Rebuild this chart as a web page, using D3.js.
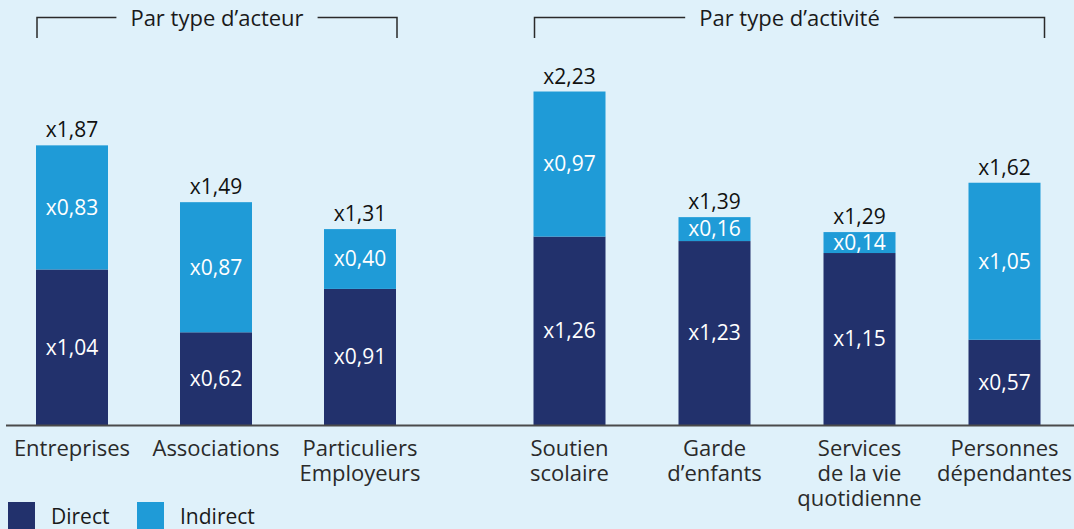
<!DOCTYPE html>
<html>
<head>
<meta charset="utf-8">
<script src="https://cdn.jsdelivr.net/npm/d3@7"></script>
<style>
  html, body { margin: 0; padding: 0; background: #dff1fa; }
  svg { display: block; }
</style>
</head>
<body>
<div id="chart"></div>
<script>
// ---- data ----
const groups = ['Par type d’acteur', 'Par type d’activité']
const categories = [
  ['Entreprises'], ['Associations'], ['Particuliers', 'Employeurs'],
  ['Soutien', 'scolaire'], ['Garde', 'd’enfants'], ['Services', 'de la vie', 'quotidienne'],
  ['Personnes', 'dépendantes']
]
const categoryGroup = [0, 0, 0, 1, 1, 1, 1]
const directValues = [1.04, 0.62, 0.91, 1.26, 1.23, 1.15, 0.57]
const indirectValues = [0.83, 0.87, 0.40, 0.97, 0.16, 0.14, 1.05]
const totalValues = [1.87, 1.49, 1.31, 2.23, 1.39, 1.29, 1.62]
const seriesNames = ['Direct', 'Indirect']

const width = 1074
const height = 529
const baseline = 425
const font = '"Open Sans","Noto Sans",sans-serif'
const colors = { Direct: '#22316c', Indirect: '#1f9bd7' }
const fmt = v => 'x' + v.toFixed(2).replace('.', ',')

const items = categories.map((c, i) => ({
  key: c.join(' '), lines: c, group: categoryGroup[i],
  direct: directValues[i], indirect: indirectValues[i], total: totalValues[i]
}))

const svg = d3.select('#chart').append('svg')
  .attr('width', width).attr('height', height)

svg.append('rect').attr('width', width).attr('height', height).attr('fill', '#dff1fa')

// one band scale per group
const groupRanges = [[0, 432], [497, 1077]]
const xScales = groups.map((g, gi) => d3.scaleBand()
  .domain(items.filter(d => d.group === gi).map(d => d.key))
  .range(groupRanges[gi])
  .paddingInner(0.5).paddingOuter(0.25))
const xOf = d => xScales[d.group](d.key)
const bw = 72

const y = d3.scaleLinear().domain([0, 2.2]).range([baseline, 96])

const textStyle = size => s => s.attr('font-family', font).attr('font-size', size + 'px').attr('text-anchor', 'middle')
const cxOf = d => xScales[d.group](d.key) + xScales[d.group].bandwidth() / 2

// ---- bars ----
const barG = svg.append('g')
barG.selectAll('.direct').data(items).join('rect')
  .attr('class', 'direct')
  .attr('x', d => cxOf(d) - bw / 2).attr('width', bw)
  .attr('y', d => y(d.direct)).attr('height', d => baseline - y(d.direct))
  .attr('fill', colors.Direct)
barG.selectAll('.indirect').data(items).join('rect')
  .attr('class', 'indirect')
  .attr('x', d => cxOf(d) - bw / 2).attr('width', bw)
  .attr('y', d => y(d.direct + d.indirect)).attr('height', d => y(d.direct) - y(d.direct + d.indirect))
  .attr('fill', colors.Indirect)

// ---- value labels ----
barG.selectAll('.lbl-direct').data(items).join('text')
  .call(textStyle(21)).attr('fill', '#ffffff')
  .attr('x', cxOf)
  .attr('y', d => (y(d.direct) + baseline) / 2).attr('dy', '0.35em')
  .text(d => fmt(d.direct))
barG.selectAll('.lbl-indirect').data(items).join('text')
  .call(textStyle(21)).attr('fill', '#ffffff')
  .attr('x', cxOf)
  .attr('y', d => (y(d.direct) + y(d.direct + d.indirect)) / 2).attr('dy', '0.35em')
  .text(d => fmt(d.indirect))
barG.selectAll('.lbl-total').data(items).join('text')
  .call(textStyle(21)).attr('fill', '#111111')
  .attr('x', cxOf)
  .attr('y', d => y(d.direct + d.indirect) - 8)
  .text(d => fmt(d.total))

// ---- axis line ----
svg.append('line')
  .attr('x1', 6).attr('x2', width).attr('y1', baseline + 0.5).attr('y2', baseline + 0.5)
  .attr('stroke', '#4a4a4a').attr('stroke-width', 2)

// ---- category labels (one text per line) ----
const catG = svg.append('g')
items.forEach(d => {
  d.lines.forEach((ln, i) => {
    catG.append('text')
      .call(textStyle(22)).attr('fill', '#2a2a2a')
      .attr('x', cxOf(d)).attr('y', 456 + i * 25).text(ln)
  })
})

// ---- group brackets ----
groups.forEach((g, gi) => {
  const gItems = items.filter(d => d.group === gi)
  const x0 = cxOf(gItems[0]) - bw / 2 + 1
  const x1 = cxOf(gItems[gItems.length - 1]) + bw / 2 + (gi === 1 ? 4 : 1)
  const cx = (x0 + x1) / 2
  const bg = svg.append('g')
  const txt = bg.append('text').call(textStyle(22)).attr('fill', '#1a1a1a')
    .attr('x', cx).attr('y', 26).text(g)
  const tw = txt.node().getComputedTextLength()
  bg.append('path')
    .attr('d', `M${x0},38V17.5H${cx - tw / 2 - 14}M${cx + tw / 2 + 14},17.5H${x1}V38`)
    .attr('fill', 'none').attr('stroke', '#2a2a2a').attr('stroke-width', 1.5)
})

// ---- legend ----
const legendX = [8, 137]
const legG = svg.append('g')
seriesNames.forEach((s, i) => {
  legG.append('rect').attr('x', legendX[i]).attr('y', 502).attr('width', 27).attr('height', 27)
    .attr('fill', colors[s])
  legG.append('text').attr('font-family', font).attr('font-size', '21px').attr('fill', '#1a1a1a')
    .attr('x', legendX[i] + 43).attr('y', 524).text(s)
})
</script>
</body>
</html>
